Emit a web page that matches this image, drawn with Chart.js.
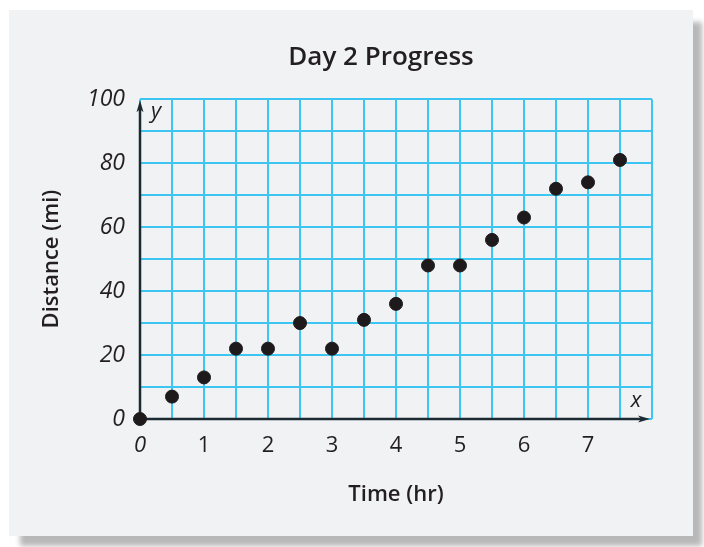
<!DOCTYPE html>
<html>
<head>
<meta charset="utf-8">
<script src="https://cdn.jsdelivr.net/npm/chart.js@4"></script>
<style>
  html, body { margin: 0; padding: 0; background: #ffffff; overflow: hidden; }
  #panel { position: absolute; left: 9px; top: 10px; width: 684px; height: 526px;
           background: #f1f2f4; box-shadow: 10px 11px 5px -1px rgba(0,0,0,0.28); }
  #wrap { position: absolute; left: 0; top: 0; width: 704px; height: 547px; }
</style>
</head>
<body>
<div id="panel"></div>
<div id="wrap"><canvas id="c" width="704" height="547"></canvas></div>
<script>
// ---- data ----
const timeHr     = [0, 0.5, 1, 1.5, 2, 2.5, 3, 3.5, 4, 4.5, 5, 5.5, 6, 6.5, 7, 7.5];
const distanceMi = [0, 7, 13, 22, 22, 30, 22, 31, 36, 48, 48, 56, 63, 72, 74, 81];
const xTickLabels = [0, 1, 2, 3, 4, 5, 6, 7];
const yTickLabels = [0, 20, 40, 60, 80, 100];
const chartTitle = 'Day 2 Progress';
const xTitle = 'Time (hr)';
const yTitle = 'Distance (mi)';

const FONT = "'Open Sans', 'DejaVu Sans', sans-serif";
const INK = '#231f20';
const GRID = '#3ec6f2';
const AXIS = '#1c2a33';

const points = timeHr.map((t, i) => ({ x: t, y: distanceMi[i] }));

const axesPlugin = {
  id: 'axesArrows',
  afterLayout(chart) {
    const tb = chart.titleBlock;
    if (tb) { tb.left += 41; tb.right += 41; }
  },
  beforeDatasetsDraw(chart) {
    const { ctx, scales: { x, y } } = chart;
    const x0 = x.getPixelForValue(0), y0 = y.getPixelForValue(0);
    const xEnd = x.getPixelForValue(8) - 2, yEnd = y.getPixelForValue(100) + 1;
    ctx.save();
    ctx.strokeStyle = AXIS; ctx.fillStyle = AXIS; ctx.lineWidth = 2.5;
    ctx.beginPath(); ctx.moveTo(x0, y0); ctx.lineTo(x0, yEnd + 8); ctx.stroke();
    ctx.beginPath(); ctx.moveTo(x0, y0); ctx.lineTo(xEnd - 8, y0); ctx.stroke();
    // arrow heads
    ctx.beginPath(); ctx.moveTo(x0, yEnd); ctx.lineTo(x0 - 3.5, yEnd + 12); ctx.lineTo(x0, yEnd + 9); ctx.lineTo(x0 + 3.5, yEnd + 12); ctx.closePath(); ctx.fill();
    ctx.beginPath(); ctx.moveTo(xEnd, y0); ctx.lineTo(xEnd - 12, y0 - 3.5); ctx.lineTo(xEnd - 9, y0); ctx.lineTo(xEnd - 12, y0 + 3.5); ctx.closePath(); ctx.fill();
    // variable letters
    ctx.fillStyle = INK;
    ctx.font = "italic 22px " + FONT;
    ctx.textAlign = 'center'; ctx.textBaseline = 'middle';
    ctx.fillText('y', x0 + 16, yEnd + 12);
    ctx.fillText('x', xEnd - 14, y0 - 18);
    ctx.restore();
  }
};

new Chart(document.getElementById('c'), {
  type: 'scatter',
  data: {
    datasets: [{
      data: points,
      backgroundColor: '#1e1a1b',
      borderColor: '#1e1a1b',
      pointRadius: 6.5,
      pointHoverRadius: 6.5,
      clip: false
    }]
  },
  options: {
    responsive: false,
    animation: false,
    events: [],
    layout: { padding: { left: 28, right: 52, top: 10, bottom: 30 } },
    plugins: {
      legend: { display: false },
      tooltip: { enabled: false },
      title: {
        display: true, text: chartTitle, color: INK,
        font: { family: FONT, size: 26, weight: '600', lineHeight: 1.2 },
        padding: { top: 32, bottom: 26 }
      }
    },
    scales: {
      x: {
        type: 'linear', min: 0, max: 8,
        border: { display: false },
        grid: { color: GRID, lineWidth: 2, drawTicks: false },
        ticks: {
          stepSize: 0.5, padding: 14, color: INK, maxRotation: 0, autoSkip: false,
          font: (c) => ({ family: FONT, size: 22, style: (c.tick && c.tick.value === 0) ? 'italic' : 'normal' }),
          callback: (v) => xTickLabels.includes(v) ? String(v) : ''
        },
        title: {
          display: true, text: xTitle, color: INK,
          font: { family: FONT, size: 22, weight: '600', lineHeight: 1.2 },
          padding: { top: 4, bottom: 9 }
        },
        afterFit: (s) => { s.height = 98; }
      },
      y: {
        type: 'linear', min: 0, max: 100,
        border: { display: false },
        grid: { color: GRID, lineWidth: 2, drawTicks: false },
        ticks: {
          stepSize: 10, padding: 15, color: INK, autoSkip: false,
          font: { family: FONT, size: 23, style: 'italic' },
          callback: (v) => yTickLabels.includes(v) ? String(v) : ''
        },
        title: {
          display: true, text: yTitle, color: INK,
          font: { family: FONT, size: 22, weight: '600', lineHeight: 1.2 },
          padding: { top: 11, bottom: 0 }
        },
        afterFit: (s) => { s.width = 112; }
      }
    }
  },
  plugins: [axesPlugin]
});
</script>
</body>
</html>
